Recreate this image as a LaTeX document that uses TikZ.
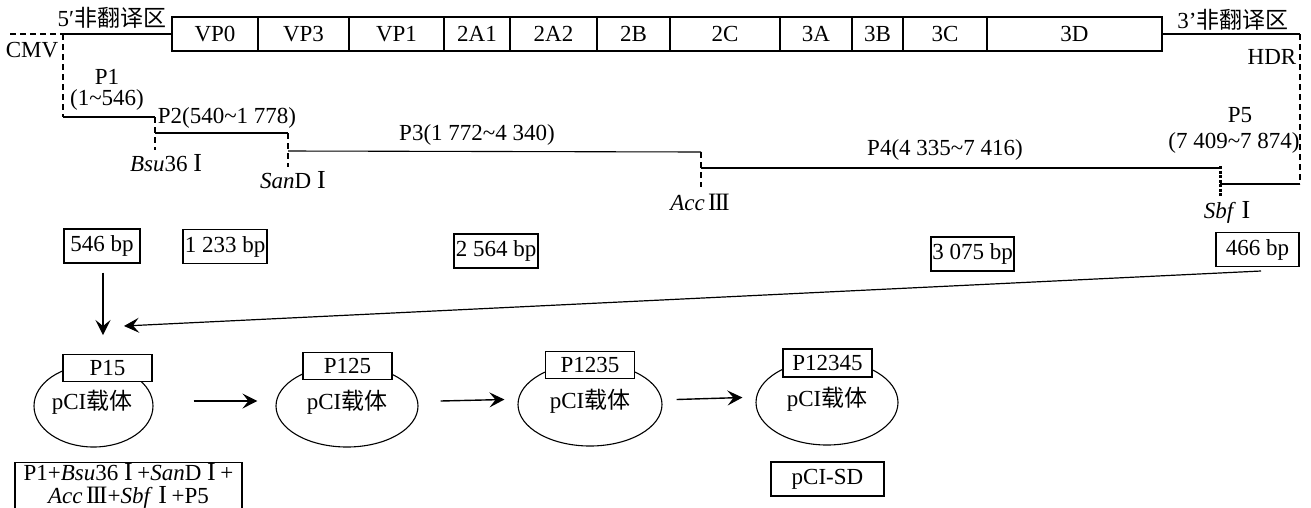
\documentclass[tikz,border=0pt]{standalone}
\usepackage{fontspec}
\setmainfont{Liberation Serif}
\newfontfamily\cjk{Noto Sans CJK SC}
\usetikzlibrary{arrows.meta,shapes.geometric}
\newcommand{\RomI}{\hspace{0.25em}{\fontsize{26}{21}\selectfont I}\hspace{0.2em}}
\newcommand{\RomIII}{\hspace{0.15em}{\fontsize{25}{21}\selectfont I\kern-0.07em I\kern-0.07em I}}
\newcommand{\tl}{\textasciitilde}
\begin{document}
\begin{tikzpicture}[x=1pt,y=-1pt,
  every node/.style={font=\fontsize{23}{21}\selectfont, inner sep=0pt},
  seg/.style={draw, line width=1.3pt, minimum height=34pt},
  bpbox/.style={draw, line width=1.1pt, minimum height=34pt},
  gline/.style={line width=1.1pt},
  cut/.style={line width=1.1pt, dash pattern=on 6pt off 4pt},
  sbf/.style={line width=3pt, dash pattern=on 3pt off 1.5pt},
  vec/.style={draw, ellipse, line width=1.1pt},
  tag/.style={draw, fill=white, line width=1.1pt, minimum height=27pt, minimum width=89pt},
  arr/.style={line width=1.4pt, -{Stealth[length=15pt,width=15pt,inset=6pt]}}
]
\useasboundingbox (0,0) rectangle (1311,507);

% genome bar
\node[seg, minimum width=86pt]  (vp0) at (215,34)    {VP0};
\node[seg, minimum width=91pt]  (vp3) at (303.5,34)  {VP3};
\node[seg, minimum width=95pt]  (vp1) at (396.5,34)  {VP1};
\node[seg, minimum width=66pt]  (a1)  at (477,34)    {2A1};
\node[seg, minimum width=87pt]  (a2)  at (553.5,34)  {2A2};
\node[seg, minimum width=73pt]  (b2)  at (633.5,34)  {2B};
\node[seg, minimum width=110pt] (c2)  at (725,34)    {2C};
\node[seg, minimum width=72pt]  (a3)  at (816,34)    {3A};
\node[seg, minimum width=51pt]  (b3)  at (877.5,34)  {3B};
\node[seg, minimum width=84pt]  (c3)  at (945,34)    {3C};
\node[seg, minimum width=175pt] (d3)  at (1074.5,34) {3D};

% key points
\coordinate (cmvL) at (10,34);
\coordinate (cmvR) at (63,34);
\coordinate (p1a) at (63,117);
\coordinate (p1b) at (155,117);
\coordinate (bsuT) at (155,117);
\coordinate (bsuB) at (155,150);
\coordinate (p2a) at (155,133);
\coordinate (p2b) at (288,133);
\coordinate (sanB) at (288,167);
\coordinate (p3a) at (288,151);
\coordinate (p3b) at (701,152);
\coordinate (accB) at (701,187);
\coordinate (p4a) at (701,168);
\coordinate (p4b) at (1220,168);
\coordinate (sbfT) at (1220,166);
\coordinate (sbfB) at (1220,197);
\coordinate (p5a) at (1220,184);
\coordinate (p5b) at (1300,184);
\coordinate (hdrT) at (1300,34);

\draw[cut] (cmvL) -- (cmvR);
\draw[gline] (cmvR) -- (vp0.west);
\draw[cut] (cmvR) -- (p1a);
\draw[gline] (p1a) -- (p1b);
\draw[cut] (bsuT) -- (bsuB);
\draw[gline] (p2a) -- (p2b);
\draw[cut] (p2b) -- (sanB);
\draw[gline] (p3a) -- (p3b);
\draw[cut] (p3b) -- (accB);
\draw[gline] (p4a) -- (p4b);
\draw[sbf] (sbfT) -- (sbfB);
\draw[gline] (p5a) -- (p5b);
\draw[cut] (hdrT) -- (p5b);
\draw[gline] (d3.east) -- (hdrT);

% labels
\node (utr5) at (112,18) {5′{\cjk 非翻译区}};
\node (utr3) at (1233,20) {3’{\cjk 非翻译区}};
\node (cmv) at (32,50) {CMV};
\node (hdr) at (1272,57) {HDR};
\node (p1l) at (107,77) {P1};
\node (p1r) at (107,100) {(1\tl546)};
\node (p2l) at (227,118) {P2(540\tl1 778)};
\node (bsu) at (166,163) {\textit{Bsu}36\RomI};
\node (san) at (293,180) {\textit{San}D\RomI};
\node (p3l) at (477,135) {P3(1 772\tl4 340)};
\node (acc) at (700,202) {\textit{Acc}\RomIII};
\node (p4l) at (945,150) {P4(4 335\tl7 416)};
\node (p5l) at (1240,115) {P5};
\node (p5r) at (1234,143) {(7 409\tl7 874)};
\node (sbfl) at (1227,212) {\textit{Sbf}\RomI};

% fragment sizes
\node[bpbox, minimum width=76pt] (f1) at (102,246)   {546 bp};
\node[bpbox, minimum width=84pt] (f2) at (225,246.5) {1 233 bp};
\node[bpbox, minimum width=84pt] (f3) at (496,251)   {2 564 bp};
\node[bpbox, minimum width=83pt] (f4) at (972.5,254) {3 075 bp};
\node[bpbox, minimum width=83pt] (f5) at (1257.5,249.5) {466 bp};

\coordinate (tip1) at (103,335);
\coordinate (tip2) at (124,326);
\coordinate (tail2) at (1261,271);
\draw[arr] ([yshift=-9pt]f1.south -| tip1) -- (tip1);
\draw[arr, line width=1.2pt] (tail2) -- (tip2);

% vectors
\node[vec, minimum width=119pt, minimum height=82pt] (e1) at (93.5,406) {};
\node[vec, minimum width=142pt, minimum height=82pt] (e2) at (347,406) {};
\node[vec, minimum width=144pt, minimum height=83pt] (e3) at (590,404.5) {};
\node[vec, minimum width=142pt, minimum height=85pt] (e4) at (827,402.5) {};
\node (t1) at (92,402)  {pCI{\cjk 载体}};
\node (t2) at (347,402) {pCI{\cjk 载体}};
\node (t3) at (590,401) {pCI{\cjk 载体}};
\node (t4) at (827,399) {pCI{\cjk 载体}};
\node[tag] (g1) at (107.5,368) {P15};
\node[tag] (g2) at (347.5,366) {P125};
\node[tag] (g3) at (590,365)   {P1235};
\node[tag, minimum height=28pt] (g4) at (827.5,363) {P12345};

\draw[arr] ([yshift=5pt,xshift=40pt]e1.east) -- ([yshift=5pt,xshift=-18pt]e2.west);
\draw[arr] ([yshift=5pt,xshift=22pt]e2.east) -- ([yshift=5pt,xshift=-13pt]e3.west);
\draw[arr] ([yshift=5pt,xshift=14pt]e3.east) -- ([yshift=5pt,xshift=-13pt]e4.west);

\node[bpbox, minimum width=113pt] (sd) at (827.5,479) {pCI-SD};
\node[draw, line width=1.1pt, anchor=north, minimum width=227pt, inner ysep=1pt, align=center, font=\fontsize{23}{23}\selectfont] (mix) at (128.5,462)
  {P1+\textit{Bsu}36\RomI+\textit{San}D\RomI+\\\textit{Acc}\RomIII+\textit{Sbf}\RomI+P5};
\end{tikzpicture}
\end{document}
